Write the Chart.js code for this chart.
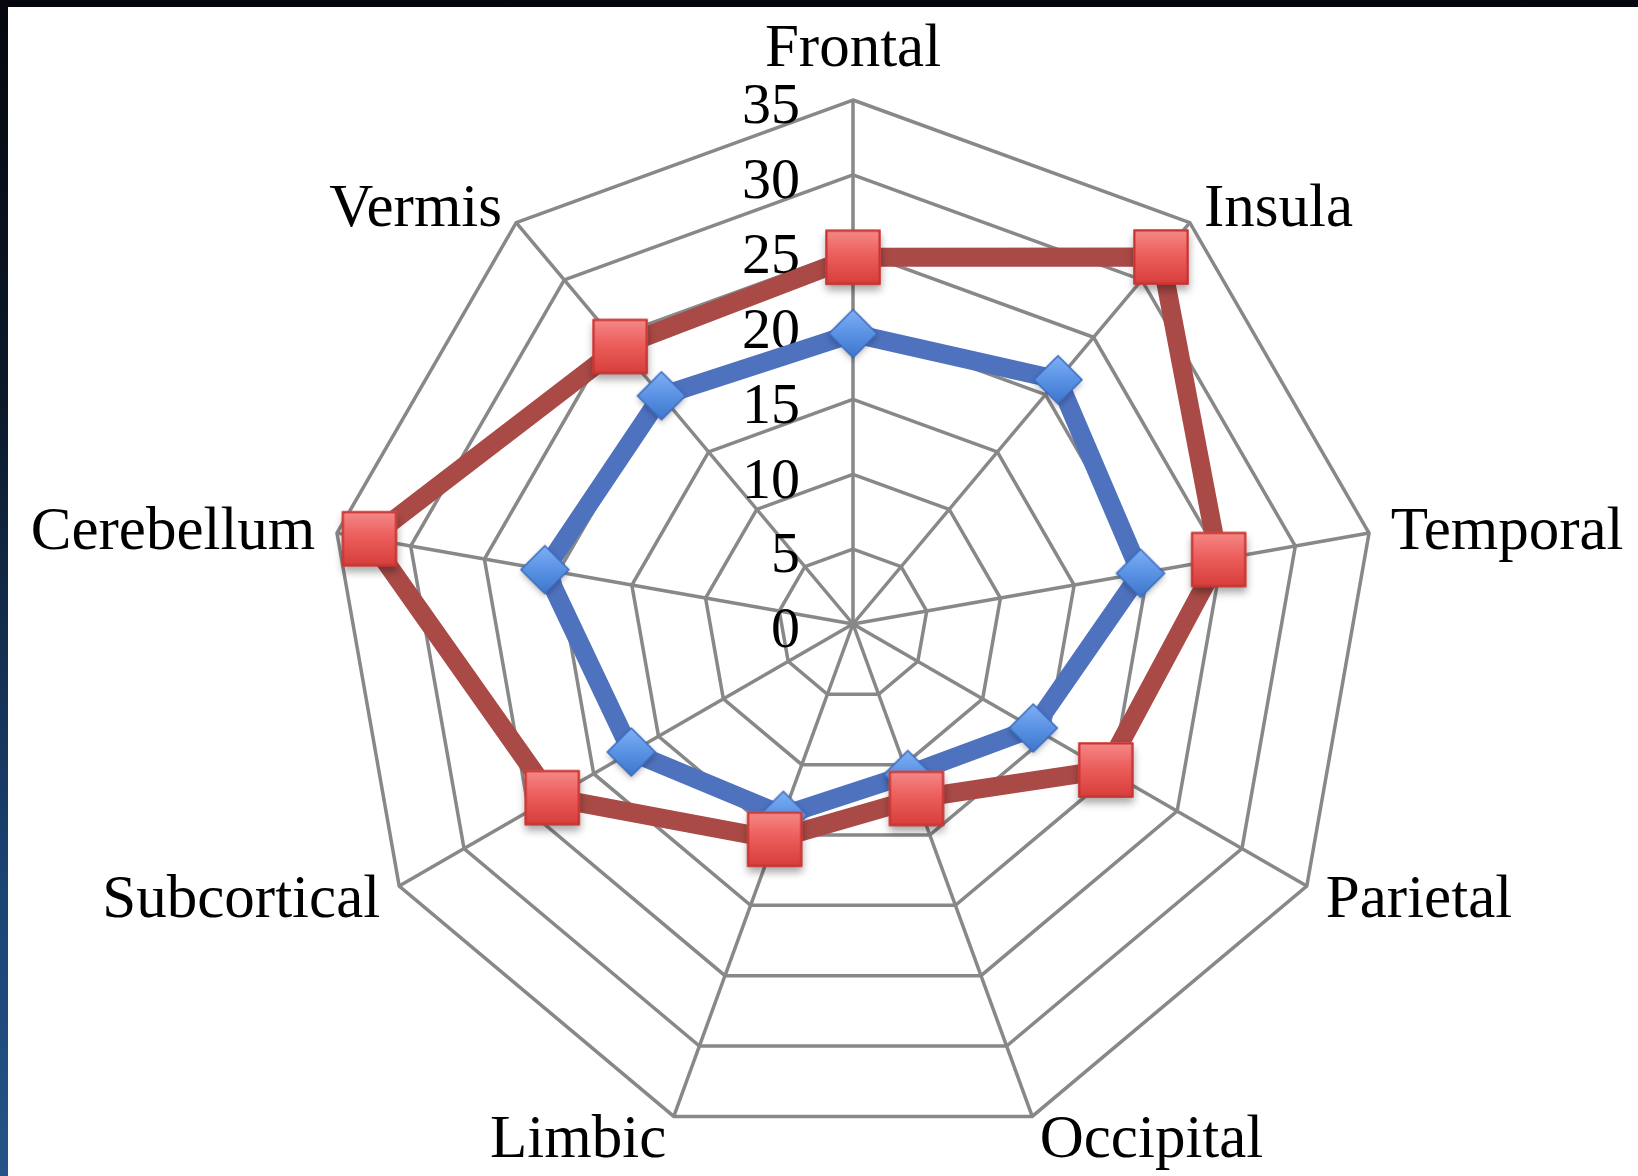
<!DOCTYPE html>
<html>
<head>
<meta charset="utf-8">
<title>Radar chart by brain region</title>
<script src="https://cdn.jsdelivr.net/npm/chart.js@4/dist/chart.umd.min.js"></script>
<style>
  html, body { margin: 0; padding: 0; }
  body {
    width: 1638px; height: 1176px; overflow: hidden;
    background: linear-gradient(to bottom, #04070d 0%, #0c1a2c 35%, #1b4373 75%, #245488 100%);
    position: relative;
  }
  #panel {
    position: absolute; left: 8px; top: 7px;
    width: 1630px; height: 1169px; background: #ffffff;
  }
  canvas { display: block; }
</style>
</head>
<body>
<div id="panel"><canvas id="chart" width="1630" height="1169"></canvas></div>
<script>
// Brain regions around the radar, clockwise from the top
const categories = ['Frontal', 'Insula', 'Temporal', 'Parietal', 'Occipital',
                    'Limbic', 'Subcortical', 'Cerebellum', 'Vermis'];
// Blue series (diamond markers)
const blueValues = [19.4, 21.3, 19.5, 13.9, 10.7, 13.6, 17.1, 20.9, 19.9];
// Red series (square markers)
const redValues  = [24.5, 32.0, 24.8, 19.5, 12.4, 15.3, 23.2, 32.8, 24.2];
// Radial tick labels
const tickValues = [0, 5, 10, 15, 20, 25, 30, 35];

const SERIF = '"Liberation Serif", "Times New Roman", serif';

// Pre-rendered marker images with a soft drop shadow
function makeSquareMarker() {
  const c = document.createElement('canvas');
  c.width = 88; c.height = 88;
  const g = c.getContext('2d');
  const s = 55, x0 = (88 - s) / 2, y0 = (88 - s) / 2;
  g.save();
  g.shadowColor = 'rgba(0,0,0,0.35)';
  g.shadowBlur = 8;
  g.shadowOffsetY = 5;
  g.fillStyle = '#d8403d';
  g.fillRect(x0, y0, s, s);
  g.restore();
  const grad = g.createLinearGradient(0, y0, 0, y0 + s);
  grad.addColorStop(0, '#f58a88');
  grad.addColorStop(0.45, '#ec5f5c');
  grad.addColorStop(1, '#d63d3a');
  g.fillStyle = grad;
  g.fillRect(x0, y0, s, s);
  g.lineWidth = 2;
  g.strokeStyle = '#c63532';
  g.strokeRect(x0 + 1, y0 + 1, s - 2, s - 2);
  return c;
}

function makeDiamondMarker() {
  const c = document.createElement('canvas');
  c.width = 68; c.height = 68;
  const g = c.getContext('2d');
  const h = 24, cx = 34, cy = 34;
  const path = () => {
    g.beginPath();
    g.moveTo(cx, cy - h); g.lineTo(cx + h, cy); g.lineTo(cx, cy + h); g.lineTo(cx - h, cy);
    g.closePath();
  };
  g.save();
  g.shadowColor = 'rgba(0,0,0,0.3)';
  g.shadowBlur = 6;
  g.shadowOffsetY = 3;
  path(); g.fillStyle = '#3f78d0'; g.fill();
  g.restore();
  const grad = g.createLinearGradient(0, cy - h, 0, cy + h);
  grad.addColorStop(0, '#7eb0f4');
  grad.addColorStop(0.5, '#5a92e4');
  grad.addColorStop(1, '#3e76cc');
  path(); g.fillStyle = grad; g.fill();
  g.lineWidth = 1.5; g.strokeStyle = '#3a6cc0'; g.stroke();
  return c;
}

const squareMarker = makeSquareMarker();
const diamondMarker = makeDiamondMarker();

// Serif tick numbers left of the vertical axis and region names outside the web
const serifLabels = {
  id: 'serifLabels',
  beforeDatasetsDraw(chart) {
    const s = chart.scales.r;
    const ctx = chart.ctx;
    ctx.save();
    ctx.fillStyle = '#000000';
    ctx.font = '58px ' + SERIF;
    ctx.textAlign = 'right';
    ctx.textBaseline = 'middle';
    tickValues.forEach(v => {
      const d = s.getDistanceFromCenterForValue(v);
      ctx.fillText(String(v), s.xCenter - 53, s.yCenter - d + 8);
    });

    ctx.font = '61px ' + SERIF;
    const n = categories.length;
    categories.forEach((name, i) => {
      const deg = i * 360 / n;
      if (deg === 0) {
        ctx.textAlign = 'center';
        ctx.textBaseline = 'alphabetic';
        ctx.fillText(name, s.xCenter, s.yCenter - s.drawingArea - 34);
        return;
      }
      const p = s.getPointPosition(i, s.drawingArea + 22);
      const sin = Math.sin(deg * Math.PI / 180);
      ctx.textAlign = sin > 0.05 ? 'left' : (sin < -0.05 ? 'right' : 'center');
      ctx.textBaseline = 'middle';
      ctx.fillText(name, p.x, p.y + 4);
    });
    ctx.restore();
  }
};

new Chart(document.getElementById('chart'), {
  type: 'radar',
  data: {
    labels: categories,
    datasets: [
      {
        label: 'Blue',
        data: blueValues,
        order: 1,
        borderColor: '#4f72bf',
        backgroundColor: 'rgba(0,0,0,0)',
        borderWidth: 19,
        borderJoinStyle: 'round',
        fill: false,
        tension: 0,
        pointStyle: diamondMarker,
        pointRadius: 24,
        pointHoverRadius: 24
      },
      {
        label: 'Red',
        data: redValues,
        order: 0,
        borderColor: '#a94a46',
        backgroundColor: 'rgba(0,0,0,0)',
        borderWidth: 19,
        borderJoinStyle: 'round',
        fill: false,
        tension: 0,
        pointStyle: squareMarker,
        pointRadius: 28,
        pointHoverRadius: 28
      }
    ]
  },
  options: {
    responsive: false,
    animation: false,
    events: [],
    layout: { padding: { left: 200, right: 140, top: 93, bottom: 28 } },
    plugins: {
      legend: { display: false },
      tooltip: { enabled: false }
    },
    scales: {
      r: {
        min: 0,
        max: 35,
        ticks: { stepSize: 5, display: false },
        pointLabels: { display: false },
        grid: { color: '#888888', lineWidth: 3.5, circular: false },
        angleLines: { color: '#888888', lineWidth: 3.5 }
      }
    }
  },
  plugins: [serifLabels]
});
</script>
</body>
</html>
